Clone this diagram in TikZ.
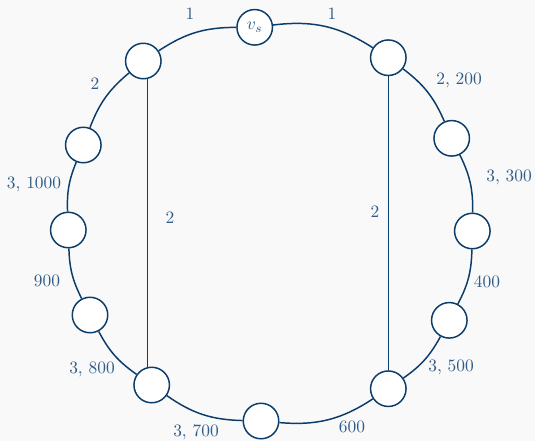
\documentclass[tikz,border=0pt]{standalone}
\definecolor{edgeblue}{HTML}{0B3D6B}
\definecolor{labblue}{HTML}{2F5C88}
\definecolor{bg}{HTML}{F9F9F9}
\begin{document}
\begin{tikzpicture}[x=0.575pt,y=-0.575pt,
  vnode/.style={circle,draw=edgeblue,fill=white,line width=0.85pt,minimum size=35.5*0.575pt,inner sep=0pt,text=labblue},
  edgeline/.style={draw=edgeblue,line width=0.85pt},
  lab/.style={text=labblue,inner sep=0pt}]
\fill[bg] (0,0) rectangle (535,441);
\useasboundingbox (0,0) rectangle (535,441);
\node[vnode] (vs) at (254.7,27.3) {$v_s$};
\node[vnode] (tl) at (143.3,61) {};
\node[vnode] (l1) at (83.3,145) {};
\node[vnode] (l2) at (68.3,230) {};
\node[vnode] (l3) at (90,315) {};
\node[vnode] (bl) at (151.7,385) {};
\node[vnode] (bo) at (261,421) {};
\node[vnode] (br) at (388.3,388.7) {};
\node[vnode] (r3) at (449.3,320.3) {};
\node[vnode] (r2) at (472.3,231) {};
\node[vnode] (r1) at (451.7,138.3) {};
\node[vnode] (tr) at (388.3,57.7) {};
\draw[edgeline] (vs) to[bend right=16.7] (tl);
\draw[edgeline] (tl) to[bend right=14.6] (l1);
\draw[edgeline] (l1) to[bend right=12.3] (l2);
\draw[edgeline] (l2) to[bend right=12.5] (l3);
\draw[edgeline] (l3) to[bend right=13.5] (bl);
\draw[edgeline] (bl) to[bend right=16.8] (bo);
\draw[edgeline] (bo) to[bend right=19.1] (br);
\draw[edgeline] (br) to[bend right=13.1] (r3);
\draw[edgeline] (r3) to[bend right=13.2] (r2);
\draw[edgeline] (r2) to[bend right=13.6] (r1);
\draw[edgeline] (r1) to[bend right=14.7] (tr);
\draw[edgeline] (tr) to[bend right=19.9] (vs);
\draw[edgeline] (tl.-77) -- (tl.-77 |- bl.102);
\draw[edgeline] (tr.south) -- (br.north);
\node[lab] at (190,14) {1};
\node[lab] at (332,14) {1};
\node[lab] at (95,84) {2};
\node[lab] at (34,184) {3, 1000};
\node[lab] at (47,281) {900};
\node[lab] at (92,369) {3, 800};
\node[lab] at (196,432) {3, 700};
\node[lab] at (352,427) {600};
\node[lab] at (451,367) {3, 500};
\node[lab] at (487,282) {400};
\node[lab] at (509,177) {3, 300};
\node[lab] at (459,80) {2, 200};
\node[lab] at (170,218) {2};
\node[lab] at (375,212) {2};
\end{tikzpicture}
\end{document}
